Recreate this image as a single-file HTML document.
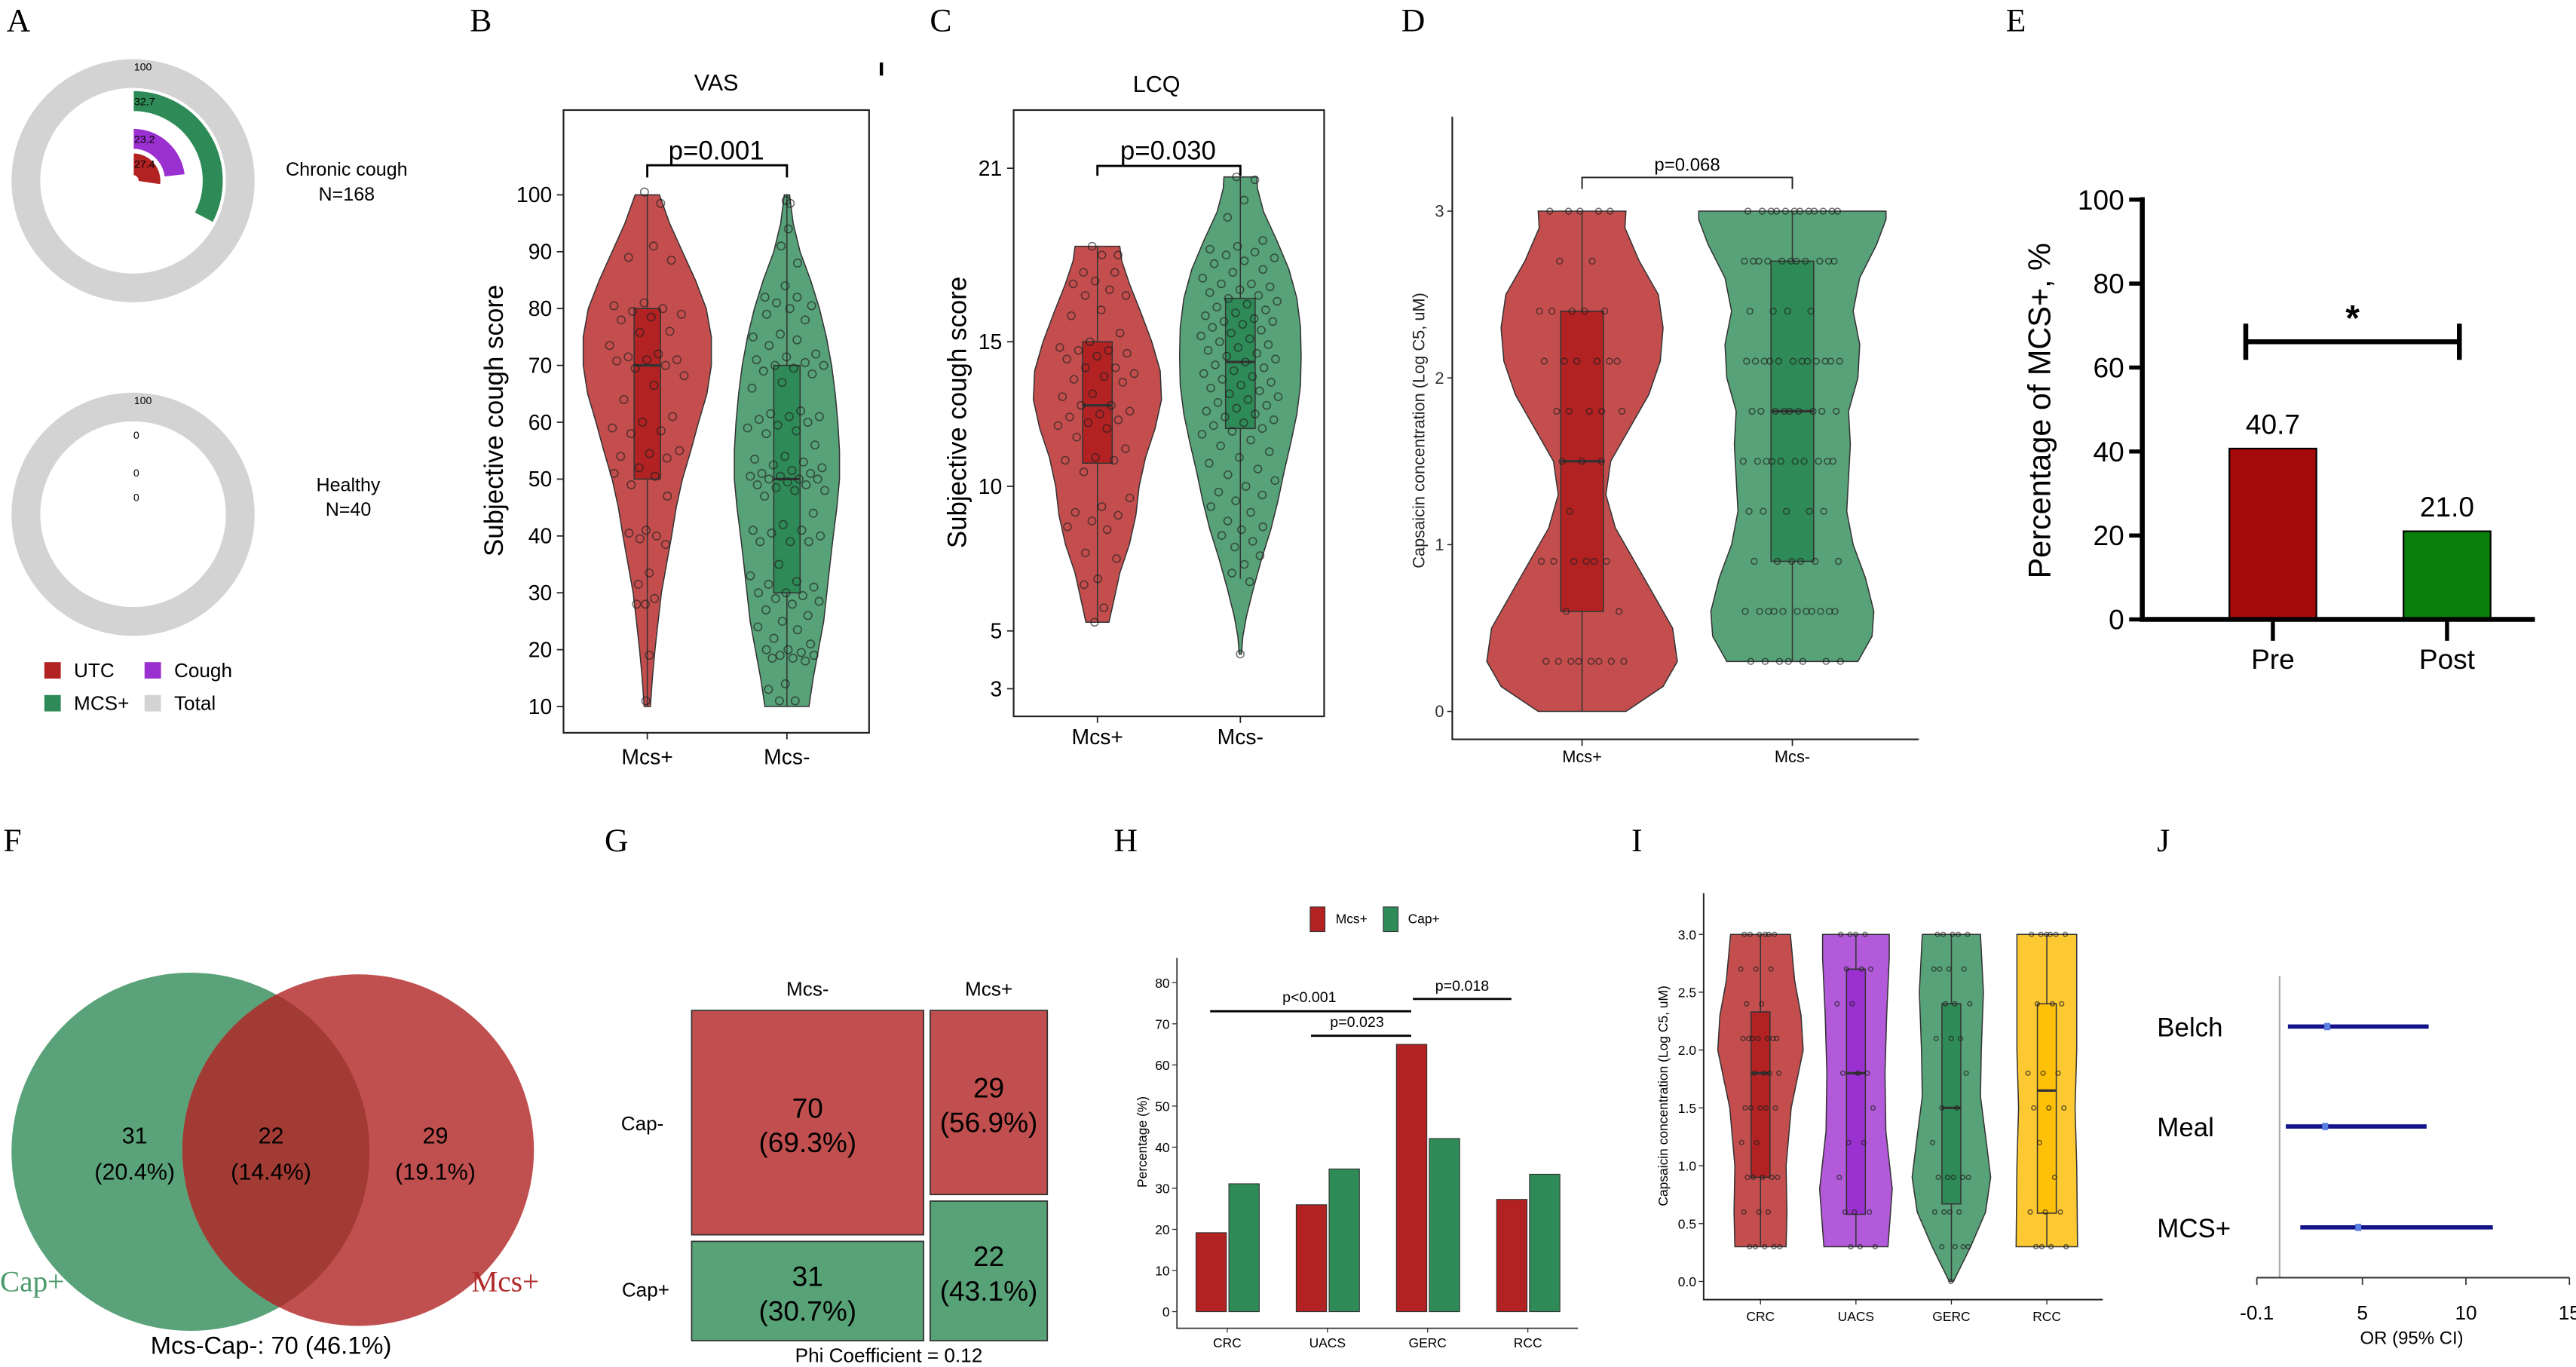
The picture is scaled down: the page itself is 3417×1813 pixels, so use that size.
<!DOCTYPE html>
<html><head><meta charset="utf-8">
<style>
html,body{margin:0;padding:0;background:#fff;}
svg{display:block;font-family:"Liberation Sans",sans-serif;}
.pl{font-family:"Liberation Serif",serif;font-size:20px;fill:#000;}
</style></head>
<body>
<svg id="fig" xmlns="http://www.w3.org/2000/svg" width="3417" height="1813" viewBox="0 0 1568 832" preserveAspectRatio="none">
<rect x="0" y="0" width="1568" height="832" fill="#fff"/>
<text class="pl" x="4" y="19">A</text>
<text class="pl" x="286" y="19">B</text>
<text class="pl" x="566" y="19">C</text>
<text class="pl" x="853" y="19">D</text>
<text class="pl" x="1221" y="19">E</text>
<text class="pl" x="2" y="518">F</text>
<text class="pl" x="368" y="518">G</text>
<text class="pl" x="678" y="518">H</text>
<text class="pl" x="993" y="518">I</text>
<text class="pl" x="1313" y="518">J</text>
<rect x="535.5" y="38" width="2" height="8" fill="#000"/>

<!-- Panel A text -->
<text x="211" y="107" font-size="11.5" text-anchor="middle">Chronic cough</text>
<text x="211" y="122" font-size="11.5" text-anchor="middle">N=168</text>
<text x="212" y="299" font-size="11.5" text-anchor="middle">Healthy</text>
<text x="212" y="314" font-size="11.5" text-anchor="middle">N=40</text>
<g>
<rect x="27" y="403" width="10" height="10" fill="#b22222"/>
<text x="45" y="412" font-size="12">UTC</text>
<rect x="88" y="403" width="10" height="10" fill="#9b30d0"/>
<text x="106" y="412" font-size="12">Cough</text>
<rect x="27" y="423" width="10" height="10" fill="#2e8b57"/>
<text x="45" y="432" font-size="12">MCS+</text>
<rect x="88" y="423" width="10" height="10" fill="#d3d3d3"/>
<text x="106" y="432" font-size="12">Total</text>
</g>

<!-- Panel B/C static -->
<rect x="343" y="67" width="186" height="379" fill="none" stroke="#222" stroke-width="1"/>
<text x="436" y="55" font-size="14" text-anchor="middle">VAS</text>
<text transform="translate(306,256) rotate(-90)" font-size="16" text-anchor="middle">Subjective cough score</text>
<rect x="617" y="67" width="189" height="369" fill="none" stroke="#222" stroke-width="1"/>
<text x="704" y="56" font-size="14" text-anchor="middle">LCQ</text>
<text transform="translate(588,251) rotate(-90)" font-size="16" text-anchor="middle">Subjective cough score</text>
<text transform="translate(867,262) rotate(-90)" font-size="10" text-anchor="middle" fill="#222">Capsaicin concentration (Log C5, uM)</text>
<text transform="translate(1248,250) rotate(-90)" font-size="19" text-anchor="middle">Percentage of MCS+, %</text>

<!-- Panel F venn -->
<g>
<circle cx="116" cy="701" r="109" fill="#5aa37a"/>
<circle cx="218" cy="700" r="107" fill="#c04f4f"/>
<clipPath id="capclip"><circle cx="116" cy="701" r="109"/></clipPath>
<circle cx="218" cy="700" r="107" fill="#a33b35" clip-path="url(#capclip)"/>
<text x="82" y="696" font-size="14" text-anchor="middle">31</text>
<text x="82" y="718" font-size="14" text-anchor="middle">(20.4%)</text>
<text x="165" y="696" font-size="14" text-anchor="middle">22</text>
<text x="165" y="718" font-size="14" text-anchor="middle">(14.4%)</text>
<text x="265" y="696" font-size="14" text-anchor="middle">29</text>
<text x="265" y="718" font-size="14" text-anchor="middle">(19.1%)</text>
<text x="0" y="786" font-size="18" font-family="Liberation Serif, serif" fill="#4a9a6a">Cap+</text>
<text x="287" y="786" font-size="18" font-family="Liberation Serif, serif" fill="#b02a2a">Mcs+</text>
<text x="165" y="824" font-size="15" text-anchor="middle">Mcs-Cap-: 70 (46.1%)</text>
</g>

<!-- Panel J static -->
<text x="1468" y="818" font-size="11" text-anchor="middle">OR (95% CI)</text>
<text x="695" y="0" font-size="8" transform="translate(700,695) rotate(-90)" text-anchor="middle"></text>
</svg>

<script>
const NS='http://www.w3.org/2000/svg';
const svg=document.getElementById('fig');
function mk(tag,attrs,parent){const e=document.createElementNS(NS,tag);for(const k in attrs)e.setAttribute(k,attrs[k]);(parent||svg).appendChild(e);return e;}
function txt(x,y,s,size,anchor,parent){const t=mk('text',{x:x,y:y,'font-size':size,'text-anchor':anchor||'start'},parent);t.textContent=s;return t;}

/* ---------- Panel A data ---------- */
const donutRings=['UTC','Cough','MCS+','Total'];
const chronicVals=[27.4,23.2,32.7,100];
const healthyVals=[0,0,0,100];
const ringColors=['#b22222','#9b30d0','#2e8b57','#d3d3d3'];
const ringR=[[3,17],[19,32],[42,55],[56.5,74]];
function sector(cx,cy,r0,r1,a0,a1){
  const rad=a=>(a-90)*Math.PI/180;
  const p=(r,a)=>[cx+r*Math.cos(rad(a)),cy+r*Math.sin(rad(a))];
  const lg=(a1-a0)>180?1:0;
  const A=p(r1,a0),B=p(r1,a1),C=p(r0,a1),D=p(r0,a0);
  return `M${A[0]},${A[1]} A${r1},${r1} 0 ${lg} 1 ${B[0]},${B[1]} L${C[0]},${C[1]} A${r0},${r0} 0 ${lg} 0 ${D[0]},${D[1]} Z`;
}
function donut(cx,cy,vals,tag){
  const g=mk('g',{});
  
  
  vals.forEach((v,i)=>{
    const r=ringR[i];
    if(v>=100){
      const c=mk('circle',{cx:cx,cy:cy,r:(r[0]+r[1])/2,fill:'none',stroke:ringColors[i],'stroke-width':r[1]-r[0]},g);
      
      
    } else if(v>0){
      const s=mk('path',{d:sector(cx,cy,r[0],r[1],0,v*3.6),fill:ringColors[i],stroke:'#fff','stroke-width':0.8},g);
      
      
    }
    const ly=cy-r[1]+(i==3?7:9);
    const t=txt(cx+(v>0&&v<100?7:(v>=100?6:2)),ly,v===0?'0':String(v),6.5,'middle',g);
    
    
  });
}
donut(81,110,chronicVals,'chronic-cough');
donut(81,313,healthyVals,'healthy');

/* ---------- violin helpers ---------- */
function violinPath(cx,ys,prof,maxHalf){
  let right=prof.map(p=>[cx+p[1]*maxHalf,ys(p[0])]);
  let left=prof.slice().reverse().map(p=>[cx-p[1]*maxHalf,ys(p[0])]);
  const pts=right.concat(left);
  return 'M'+pts.map(p=>p[0].toFixed(1)+','+p[1].toFixed(1)).join(' L')+' Z';
}
function widthAt(prof,v){
  for(let i=0;i<prof.length-1;i++){const a=prof[i],b=prof[i+1];if(v>=a[0]&&v<=b[0]){const t=(v-a[0])/((b[0]-a[0])||1);return a[1]+(b[1]-a[1])*t;}}
  return prof[prof.length-1][1];
}
function drawViolinGroup(o){
  const g=mk('g',{});
  
  
  const v=mk('path',{d:violinPath(o.cx,o.ys,o.prof,o.maxHalf),fill:o.fill,stroke:'#333','stroke-width':0.7},g);
  
  
  const w=mk('line',{x1:o.cx,x2:o.cx,y1:o.ys(o.whisk[0]),y2:o.ys(o.whisk[1]),stroke:'#333','stroke-width':0.7},g);
  
  
  const b=mk('rect',{x:o.cx-o.boxW/2,y:o.ys(o.box[2]),width:o.boxW,height:o.ys(o.box[0])-o.ys(o.box[2]),fill:o.boxFill,stroke:'#333','stroke-width':0.7},g);
  
  
  const m=mk('line',{x1:o.cx-o.boxW/2,x2:o.cx+o.boxW/2,y1:o.ys(o.box[1]),y2:o.ys(o.box[1]),stroke:'#333','stroke-width':1.5},g);
  
  
  o.points.forEach((val,i)=>{
    const hw=widthAt(o.prof,val)*o.maxHalf;
    const j=(((i*0.61803+0.37)%1)-0.5)*2*Math.min(hw*0.9,o.jit);
    const c=mk('circle',{cx:o.cx+j,cy:o.ys(val),r:o.pr,fill:'none',stroke:'rgba(30,30,30,0.65)','stroke-width':0.7},g);
    
    
  });
}
function expand(vals,counts){const out=[];vals.forEach((v,i)=>{for(let k=0;k<counts[i];k++)out.push(v);});return out;}

/* ---------- Panel B (VAS) ---------- */
const vasTicks=[10,20,30,40,50,60,70,80,90,100];
const vasGroups=['Mcs+','Mcs-'];
const vasBoxPlus=[50,70,80];
const vasBoxMinus=[30,50,70];
const vasProfPlus=[[10,0.05],[15,0.08],[20,0.12],[25,0.17],[30,0.22],[35,0.3],[40,0.38],[45,0.45],[50,0.55],[55,0.68],[60,0.8],[65,0.93],[70,1.0],[75,1.0],[80,0.92],[85,0.75],[90,0.55],[95,0.35],[100,0.19]];
const vasProfMinus=[[10,0.42],[15,0.5],[20,0.6],[25,0.7],[30,0.76],[35,0.82],[40,0.88],[45,0.95],[50,1.0],[55,1.0],[60,0.97],[65,0.92],[70,0.85],[75,0.75],[80,0.62],[85,0.45],[90,0.25],[95,0.12],[100,0.05]];
const vasPtsPlus=[100.5,98.5,91,89,88.5,81,80.5,80,79.5,79,78.5,78,76,75.8,73.5,72,71.5,71,71,70.8,70,69.5,68.2,66.5,64,61,60,59,58.5,58,55,54.5,54,53.7,52,51,50.5,49,47,41,40.5,40,39.5,38.5,33.5,31.5,29,28,28,19,11];
const vasPtsMinus=[99,98.5,94,91,88,84,82,82,81,80.5,80,79,78,75.5,75,74.5,73.5,72,71.5,71,70.5,70,70,69.5,69,68.5,67,66,62,61.5,61,61,60.5,60,59.5,59,58.5,58,56,54,53.5,53,52.5,52,51.5,51,51,50.5,50.5,50,50,50,49.5,49,49,48.5,48,48,47,44,42,41,41,40.5,40,39,39,39,35,33,32,31.5,31,30,30,29.5,29,28.5,28,27,26,25,24,23.5,22,21,20,20,19.5,19,19,18.5,18.5,18,14,13,11,11];
(function(){
  const ys=v=>430-(v-10)*3.46;
  const xc=[394,479];
  vasTicks.forEach(t=>{
    const l=mk('line',{x1:339,x2:343,y1:ys(t),y2:ys(t),stroke:'#222','stroke-width':0.8});
    
    
    const s=txt(336,ys(t)+4.5,String(t),13,'end');
    
    
  });
  vasGroups.forEach((g,i)=>{
    const l=mk('line',{x1:xc[i],x2:xc[i],y1:446,y2:450,stroke:'#222','stroke-width':0.8});
    
    
    const s=txt(xc[i],465,g,13,'middle');
    
    
  });
  drawViolinGroup({name:'vas-mcs-plus',cx:xc[0],ys:ys,prof:vasProfPlus,maxHalf:39,fill:'#c44e4e',boxFill:'#b22222',box:vasBoxPlus,whisk:[10,100],boxW:16,points:vasPtsPlus,pr:2.4,jit:24});
  drawViolinGroup({name:'vas-mcs-minus',cx:xc[1],ys:ys,prof:vasProfMinus,maxHalf:32,fill:'#57a278',boxFill:'#2e8b57',box:vasBoxMinus,whisk:[10,100],boxW:16,points:vasPtsMinus,pr:2.4,jit:24});
  const br=mk('path',{d:`M${xc[0]},108 V100.6 H${xc[1]} V108`,fill:'none',stroke:'#000','stroke-width':1.3});
  
  
  const p=txt(436,97,'p=0.001',16,'middle');
  
  
})();

/* ---------- Panel C (LCQ) ---------- */
const lcqTicks=[3,5,10,15,21];
const lcqGroups=['Mcs+','Mcs-'];
const lcqBoxPlus=[10.8,12.8,15];
const lcqBoxMinus=[12,14.3,16.5];
const lcqProfPlus=[[5.3,0.18],[6,0.25],[7,0.35],[8,0.5],[9,0.6],[10,0.65],[11,0.75],[12,0.9],[13,1.0],[14,0.98],[15,0.85],[16,0.68],[17,0.5],[17.8,0.38],[18.3,0.35]];
const lcqProfMinus=[[4.2,0.02],[4.8,0.04],[5.5,0.1],[6.5,0.22],[7.5,0.35],[8.5,0.5],[9.5,0.62],[10.5,0.72],[11.5,0.83],[12.5,0.93],[13.5,0.99],[14.5,1.0],[15.5,0.99],[16.5,0.93],[17.5,0.8],[18.5,0.6],[19.5,0.38],[20.3,0.28],[20.7,0.27]];
const lcqPtsPlus=[18.3,18,18,17.4,17.4,17.1,17,16.8,16.6,16.6,16.1,15.9,15.3,15,14.8,14.7,14.7,14.6,14.5,14.4,14.1,14.1,13.9,13.8,13.7,13.6,13.2,13.1,12.8,12.8,12.6,12.5,12.4,12.3,12.2,12.1,12,11.7,11.3,11,10.9,10.9,10.5,9.6,9.3,9.1,9,8.8,8.6,8.5,7.7,7.5,6.8,6.6,5.8,5.3];
const lcqPtsMinus=[20.7,20.6,19.9,19.3,18.5,18.3,18.2,18.1,18,17.9,17.8,17.7,17.5,17.4,17.2,17,17,16.9,16.8,16.7,16.6,16.5,16.4,16.3,16.2,16.1,16,15.9,15.8,15.7,15.7,15.6,15.5,15.4,15.3,15.2,15.1,15,14.9,14.8,14.7,14.6,14.5,14.4,14.3,14.2,14.1,14,13.9,13.8,13.7,13.6,13.5,13.4,13.3,13.2,13.1,13,12.9,12.8,12.7,12.6,12.5,12.4,12.3,12.2,12.1,12,11.9,11.8,11.6,11.4,11.2,11,10.8,10.6,10.4,10.2,10,9.8,9.7,9.5,9.3,9.1,8.8,8.6,8.5,8.3,8.1,7.9,7.6,7.3,7,6.7,4.2];
(function(){
  const ys=v=>296-(v-10)*17.6;
  const xc=[668,755];
  lcqTicks.forEach(t=>{
    const l=mk('line',{x1:613,x2:617,y1:ys(t),y2:ys(t),stroke:'#222','stroke-width':0.8});
    
    
    const s=txt(610,ys(t)+4.5,String(t),13,'end');
    
    
  });
  lcqGroups.forEach((g,i)=>{
    const l=mk('line',{x1:xc[i],x2:xc[i],y1:436,y2:440,stroke:'#222','stroke-width':0.8});
    
    
    const s=txt(xc[i],453,g,13,'middle');
    
    
  });
  drawViolinGroup({name:'lcq-mcs-plus',cx:xc[0],ys:ys,prof:lcqProfPlus,maxHalf:39,fill:'#c44e4e',boxFill:'#b22222',box:lcqBoxPlus,whisk:[5.3,18.3],boxW:18,points:lcqPtsPlus,pr:2.3,jit:24});
  drawViolinGroup({name:'lcq-mcs-minus',cx:xc[1],ys:ys,prof:lcqProfMinus,maxHalf:37,fill:'#57a278',boxFill:'#2e8b57',box:lcqBoxMinus,whisk:[6.8,20.7],boxW:18,points:lcqPtsMinus,pr:2.3,jit:24});
  const br=mk('path',{d:`M${xc[0]},107 V101 H${xc[1]} V107`,fill:'none',stroke:'#000','stroke-width':1.3});
  
  
  const p=txt(711,97,'p=0.030',16,'middle');
  
  
})();

/* ---------- Panel D (capsaicin) ---------- */
const capTicks=[0,1,2,3];
const capLevels=[0.3,0.6,0.9,1.2,1.5,1.8,2.1,2.4,2.7,3.0];
const capCountPlus=[8,2,6,1,3,5,6,5,2,5];
const capCountMinus=[7,11,6,5,10,9,12,4,11,12];
const capBoxPlus=[0.6,1.5,2.4];
const capBoxMinus=[0.9,1.8,2.7];
const capProfPlus=[[0,0.46],[0.15,0.85],[0.3,1.0],[0.5,0.95],[0.7,0.75],[0.9,0.55],[1.1,0.35],[1.3,0.25],[1.5,0.3],[1.7,0.5],[1.9,0.7],[2.1,0.82],[2.3,0.85],[2.5,0.8],[2.7,0.6],[2.9,0.45],[3.0,0.46]];
const capProfMinus=[[0.3,0.7],[0.45,0.85],[0.6,0.87],[0.8,0.78],[1.0,0.65],[1.2,0.58],[1.4,0.6],[1.6,0.62],[1.8,0.6],[2.0,0.7],[2.2,0.72],[2.4,0.65],[2.6,0.72],[2.8,0.9],[2.95,1.0],[3.0,1.0]];
(function(){
  const ys=v=>433-v*101.5;
  const xc=[963,1091];
  const ax=mk('path',{d:'M884,71 V450 H1168',fill:'none',stroke:'#222','stroke-width':1});
  
  
  capTicks.forEach(t=>{
    const l=mk('line',{x1:881,x2:884,y1:ys(t),y2:ys(t),stroke:'#222','stroke-width':0.7});
    
    
    const s=txt(879,ys(t)+3.5,String(t),10,'end');
    s.setAttribute('fill','#333');
    
    
  });
  ['Mcs+','Mcs-'].forEach((g,i)=>{
    const l=mk('line',{x1:xc[i],x2:xc[i],y1:450,y2:454,stroke:'#222','stroke-width':0.8});
    
    
    const s=txt(xc[i],464,g,10,'middle');
    
    
  });
  drawViolinGroup({name:'cap-mcs-plus',cx:xc[0],ys:ys,prof:capProfPlus,maxHalf:58,fill:'#c44e4e',boxFill:'#b22222',box:capBoxPlus,whisk:[0,3],boxW:26,points:expand(capLevels,capCountPlus),pr:1.8,jit:26});
  drawViolinGroup({name:'cap-mcs-minus',cx:xc[1],ys:ys,prof:capProfMinus,maxHalf:57,fill:'#57a278',boxFill:'#2e8b57',box:capBoxMinus,whisk:[0.3,3],boxW:26,points:expand(capLevels,capCountMinus),pr:1.8,jit:30});
  const br=mk('path',{d:`M${xc[0]},115 V108 H${xc[1]} V115`,fill:'none',stroke:'#222','stroke-width':0.9});
  
  
  const p=txt(1027,104,'p=0.068',11,'middle');
  
  
})();

/* ---------- Panel E ---------- */
const eCats=['Pre','Post'];
const eVals=[40.7,21.0];
const eTicks=[0,20,40,60,80,100];
const eColors=['#a50a0a','#0a800a'];
(function(){
  const ys=v=>377-v*2.555;
  const xc=[1383.5,1489.5];
  eTicks.forEach(t=>{
    const l=mk('line',{x1:1296,x2:1304,y1:ys(t),y2:ys(t),stroke:'#000','stroke-width':2.5});
    
    
    const s=txt(1293,ys(t)+6,String(t),17,'end');
    
    
  });
  eCats.forEach((c,i)=>{
    const b=mk('rect',{x:xc[i]-26.5,y:ys(eVals[i]),width:53,height:ys(0)-ys(eVals[i]),fill:eColors[i],stroke:'#000','stroke-width':1});
    
    
    const v=txt(xc[i],ys(eVals[i])-9,eVals[i].toFixed(1),17,'middle');
    
    
    const tk=mk('line',{x1:xc[i],x2:xc[i],y1:377,y2:390,stroke:'#000','stroke-width':2.5});
    
    
    const l=txt(xc[i],407,c,17,'middle');
    
    
  });
  const ax=mk('path',{d:'M1304,120 V377 H1543',fill:'none',stroke:'#000','stroke-width':3});
  
  
  const br=mk('path',{d:`M1367,197 V219 M1367,208 H1497 M1497,197 V219`,fill:'none',stroke:'#000','stroke-width':3});
  
  
  const s=txt(1432,201,'*',22,'middle');
  s.setAttribute('font-weight','bold');
  
  
})();

/* ---------- Panel G mosaic ---------- */
const gCols=['Mcs-','Mcs+'];
const gRows=['Cap-','Cap+'];
const gCounts=[[70,31],[29,22]]; // [col][row]
(function(){
  const x0=421,totalW=216.5,gap=4,y0=615,totalH=201;
  const colTot=gCounts.map(c=>c[0]+c[1]);
  const all=colTot[0]+colTot[1];
  let x=x0;
  gCols.forEach((c,ci)=>{
    const w=(totalW-gap)*colTot[ci]/all;
    let y=y0;
    const h0=(totalH-gap)*gCounts[ci][0]/colTot[ci];
    const ht=txt(x+w/2,606,c,12,'middle');
    
    
    gRows.forEach((r,ri)=>{
      const h=ri===0?h0:(totalH-gap-h0);
      const rc=mk('rect',{x:x,y:y,width:w,height:h,fill:ri===0?'#c24f4f':'#58a278',stroke:'#333','stroke-width':0.8});
      
      
      const pct=(100*gCounts[ci][ri]/colTot[ci]).toFixed(1);
      const t1=txt(x+w/2,y+h/2-3,String(gCounts[ci][ri]),17,'middle');
      
      
      const t2=txt(x+w/2,y+h/2+18,'('+pct+'%)',17,'middle');
      
      
      y+=h+gap;
    });
    x+=w+gap;
  });
  const r1=txt(391,688,'Cap-',12,'middle');
  
  
  const r2=txt(393,789,'Cap+',12,'middle');
  
  
  const ph=txt(541,829,'Phi Coefficient = 0.12',12,'middle');
  
  
})();

/* ---------- Panel H ---------- */
const hCats=['CRC','UACS','GERC','RCC'];
const hMcs=[19.2,26.0,65.0,27.3];
const hCap=[31.1,34.7,42.1,33.4];
const hTicks=[0,10,20,30,40,50,60,70,80];
(function(){
  const ys=v=>798.3-v*2.5025;
  const xs=i=>747+i*61;
  const ax=mk('path',{d:'M716.4,583 V808.4 H960.5',fill:'none',stroke:'#333','stroke-width':0.8});
  
  
  hTicks.forEach(t=>{
    const l=mk('line',{x1:713.5,x2:716.4,y1:ys(t),y2:ys(t),stroke:'#333','stroke-width':0.6});
    
    
    const s=txt(712,ys(t)+3,String(t),8,'end');
    
    
  });
  hCats.forEach((c,i)=>{
    const r=mk('rect',{x:xs(i)-19,y:ys(hMcs[i]),width:18.5,height:ys(0)-ys(hMcs[i]),fill:'#b22222',stroke:'#333','stroke-width':0.5});
    
    
    const g=mk('rect',{x:xs(i)+1,y:ys(hCap[i]),width:18.5,height:ys(0)-ys(hCap[i]),fill:'#2e8b57',stroke:'#333','stroke-width':0.5});
    
    
    const tk=mk('line',{x1:xs(i),x2:xs(i),y1:808.4,y2:811,stroke:'#333','stroke-width':0.6});
    
    
    const l=txt(xs(i),820,c,8,'middle');
    
    
  });
  const yt=txt(0,0,'Percentage (%)',8,'middle');
  yt.setAttribute('transform','translate(698,695) rotate(-90)');
  
  
  const brs=[[0,2,615.5,'p<0.001',797,610],[1,2,630.4,'p=0.023',826,625],[2,3,608,'p=0.018',890,603]];
  brs.forEach(b=>{
    const x1=b[0]===0?736.6:xs(b[0])-9,x2=b[1]===3?920:859;
    const l=mk('line',{x1:b[0]===1?798:x1,x2:x2,y1:b[2],y2:b[2],stroke:'#000','stroke-width':1.3});
    
    
    const t=txt(b[4],b[5],b[3],9,'middle');
    
    
  });
  const l1=mk('rect',{x:797.5,y:552,width:9,height:15,fill:'#b22222',stroke:'#333','stroke-width':0.5});
  
  
  const lt1=txt(813,562,'Mcs+',8,'start');
  
  
  const l2=mk('rect',{x:842,y:552,width:9,height:15,fill:'#2e8b57',stroke:'#333','stroke-width':0.5});
  
  
  const lt2=txt(857,562,'Cap+',8,'start');
  
  
})();

/* ---------- Panel I ---------- */
const iCats=['CRC','UACS','GERC','RCC'];
const iTicks=[0,0.5,1.0,1.5,2.0,2.5,3.0];
const iLevels=[0,0.3,0.6,0.9,1.2,1.5,1.8,2.1,2.4,2.7,3.0];
const iCountCRC=[0,5,3,5,2,5,4,7,2,3,6];
const iCountUACS=[0,3,3,1,2,1,3,0,2,3,4];
const iCountGERC=[1,4,4,5,1,2,1,3,3,4,5];
const iCountRCC=[0,4,3,1,1,3,3,0,3,0,6];
const iBoxes=[[0.9,1.8,2.33],[0.58,1.8,2.7],[0.67,1.5,2.4],[0.59,1.65,2.4]];
const iProfCRC=[[0.3,0.6],[0.6,0.62],[1.0,0.6],[1.5,0.72],[2.0,1.0],[2.3,0.95],[2.6,0.8],[3.0,0.7]];
const iProfUACS=[[0.3,0.75],[0.8,0.85],[1.3,0.7],[1.8,0.68],[2.3,0.72],[2.8,0.78],[3.0,0.78]];
const iProfGERC=[[0,0.05],[0.3,0.45],[0.6,0.8],[0.9,0.92],[1.2,0.82],[1.6,0.68],[2.0,0.7],[2.5,0.75],[3.0,0.68]];
const iProfRCC=[[0.3,0.72],[1.0,0.7],[1.5,0.66],[2.0,0.7],[2.5,0.7],[3.0,0.7]];
(function(){
  const ys=v=>779.9-v*70.4;
  const xs=i=>1071.6+i*58.1;
  const ax=mk('path',{d:'M1037,543.6 V791 H1280',fill:'none',stroke:'#222','stroke-width':0.9});
  
  
  iTicks.forEach(t=>{
    const l=mk('line',{x1:1034,x2:1037,y1:ys(t),y2:ys(t),stroke:'#222','stroke-width':0.6});
    
    
    const s=txt(1032.5,ys(t)+3,t.toFixed(1),8,'end');
    
    
  });
  const profs=[iProfCRC,iProfUACS,iProfGERC,iProfRCC];
  const counts=[iCountCRC,iCountUACS,iCountGERC,iCountRCC];
  const fills=['#c44e4e','#b25ad9','#57a278','#fdc933'];
  const boxFills=['#b22222','#9b30d0','#2e8b57','#ffc107'];
  iCats.forEach((c,i)=>{
    const pts=expand(iLevels,counts[i]);
    drawViolinGroup({name:'i-'+c.toLowerCase(),cx:xs(i),ys:ys,prof:profs[i],maxHalf:26,fill:fills[i],boxFill:boxFills[i],box:iBoxes[i],whisk:[profs[i][0][0],3],boxW:11.5,points:pts,pr:1.3,jit:12});
    const tk=mk('line',{x1:xs(i),x2:xs(i),y1:791,y2:794,stroke:'#222','stroke-width':0.6});
    
    
    const l=txt(xs(i),804,c,8,'middle');
    
    
  });
  const yt=txt(0,0,'Capsaicin concentration (Log C5, uM)',8,'middle');
  yt.setAttribute('transform','translate(1015,667) rotate(-90)');
  
  
})();

/* ---------- Panel J forest ---------- */
const jVars=['Belch','Meal','MCS+'];
const jEst=[3.3,3.2,4.8];
const jLo=[1.4,1.3,2.0];
const jHi=[8.2,8.1,11.3];
const jTicks=[-0.1,5,10,15];
(function(){
  const xs=v=>1438+(v-5)*12.6;
  const rowY=[624.8,685.6,747];
  const ref=mk('line',{x1:xs(1),x2:xs(1),y1:594,y2:777.6,stroke:'#aaa','stroke-width':1});
  
  
  const ax=mk('line',{x1:xs(-0.1),x2:xs(15),y1:777.6,y2:777.6,stroke:'#333','stroke-width':0.9});
  
  
  jTicks.forEach(t=>{
    const l=mk('line',{x1:xs(t),x2:xs(t),y1:777.6,y2:782,stroke:'#333','stroke-width':0.8});
    
    
    const s=txt(xs(t),803,String(t),12,'middle');
    
    
  });
  jVars.forEach((v,i)=>{
    const l=txt(1313,rowY[i]+6,v,16,'start');
    
    
    const ci=mk('line',{x1:xs(jLo[i]),x2:xs(jHi[i]),y1:rowY[i],y2:rowY[i],stroke:'#14148a','stroke-width':2.6});
    
    
    const p=mk('rect',{x:xs(jEst[i])-1.8,y:rowY[i]-2.2,width:3.6,height:4.4,fill:'#5a7de0'});
    
    
  });
})();
</script>
</body></html>
